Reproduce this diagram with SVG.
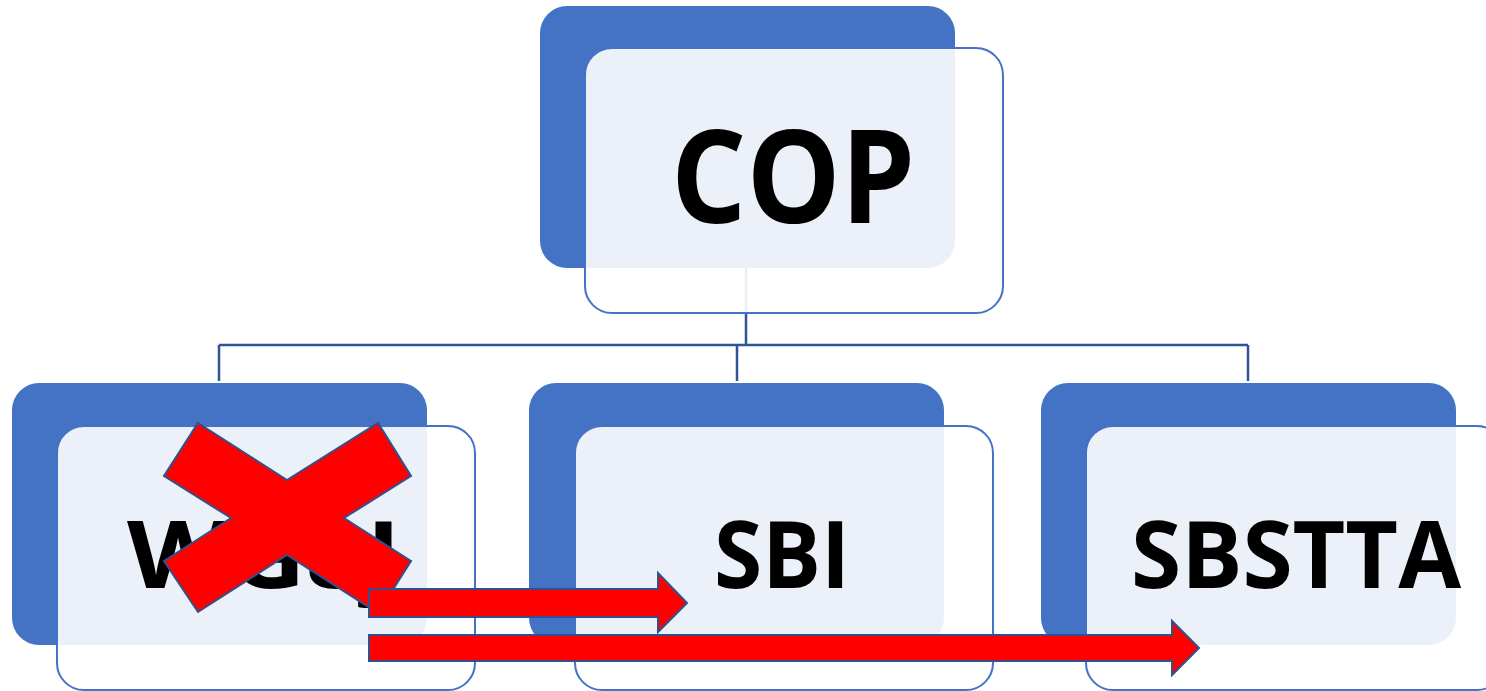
<svg xmlns="http://www.w3.org/2000/svg" width="1486" height="691" viewBox="0 0 1486 691">
<style>
.dark{fill:#4472C4;}
.light{fill:#FFFFFF;fill-opacity:0.9;stroke:#4472C4;stroke-width:2;}
.lbl{font-family:"Open Sans","Liberation Sans",sans-serif;font-weight:bold;fill:#000000;text-anchor:middle;}
.conn{fill:none;stroke:#2F5597;stroke-width:2.5;}
.red{fill:#FF0000;stroke:#2F528F;stroke-width:2;stroke-linejoin:miter;}
</style>
<rect width="1486" height="691" fill="#FFFFFF"/>
<g id="connectors">
<path class="conn" d="M746,268 V345 M219,345 H1248 M219,345 V381 M737,345 V381 M1248,345 V381"/>
</g>
<g id="node-cop">
<rect class="dark" x="540" y="6" width="415" height="262" rx="27"/>
<rect class="light" x="585" y="48" width="418" height="265" rx="27"/>
<text class="lbl" x="793" y="223" font-size="129" textLength="244" lengthAdjust="spacingAndGlyphs">COP</text>
</g>
<g id="node-wg8j">
<rect class="dark" x="12" y="383" width="415" height="262" rx="27"/>
<rect class="light" x="57" y="426" width="418" height="264" rx="27"/>
<text class="lbl" x="264" y="588" font-size="94" textLength="274" lengthAdjust="spacingAndGlyphs">WG8J</text>
</g>
<g id="node-sbi">
<rect class="dark" x="529" y="383" width="415" height="262" rx="27"/>
<rect class="light" x="575" y="426" width="418" height="264" rx="27"/>
<text class="lbl" x="782" y="588" font-size="94" textLength="136" lengthAdjust="spacingAndGlyphs">SBI</text>
</g>
<g id="node-sbstta">
<rect class="dark" x="1041" y="383" width="415" height="262" rx="27"/>
<rect class="light" x="1086" y="426" width="418" height="264" rx="27"/>
<text class="lbl" x="1296" y="588" font-size="94" textLength="330" lengthAdjust="spacingAndGlyphs">SBSTTA</text>
</g>
<g id="cross">
<polygon class="red" points="198,423 287,480 378,423 411,476 344,518 411,561 378,613 287,555 198,612 164,561 231,518 164,476"/>
</g>
<g id="arrows">
<polygon class="red" points="369,589 658,589 658,573 687,603 658,632 658,617 369,617"/>
<polygon class="red" points="369,635 1172,635 1172,621 1199,648 1172,675 1172,661 369,661"/>
</g>
</svg>
